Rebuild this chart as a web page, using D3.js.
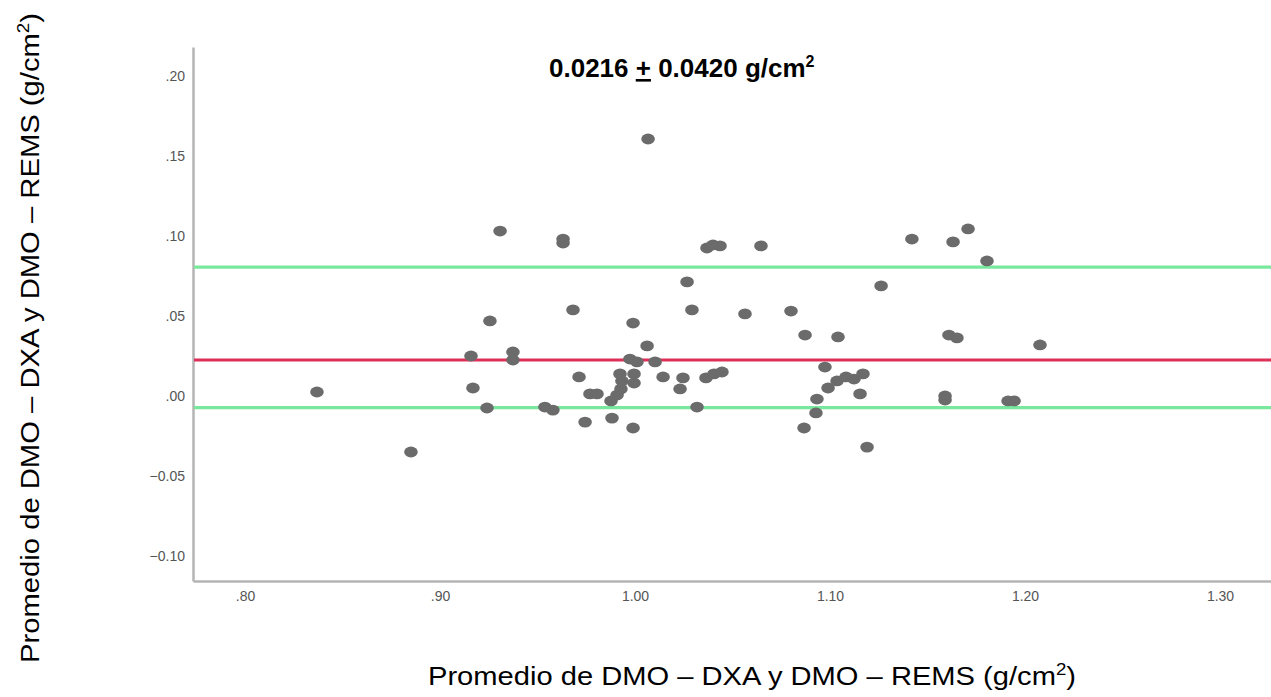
<!DOCTYPE html>
<html lang="es">
<head>
  <meta charset="UTF-8">
  <title>Bland-Altman DMO DXA vs REMS</title>
  <style>
    body { margin: 0; background: #fff; font-family: "Liberation Sans", Arial, sans-serif; }
    svg { display: block; }
    .tick text { fill: #555; font-size: 14px; font-family: "Liberation Sans", Arial, sans-serif; }
  </style>
</head>
<body>
  <div id="chart"></div>
  <script src="https://d3js.org/d3.v7.min.js"></script>
  <script>
    // mean of the two methods (g/cm2)
    const meanX = [
      0.8369, 0.8851, 0.9256, 0.9159, 0.9169, 0.9241, 0.9308, 0.9374, 0.9374, 0.9538,
      0.9579, 0.9631, 0.9631, 0.9682, 0.9713, 0.9744, 0.9769, 0.9805, 0.9882, 0.9877,
      0.9908, 0.9928, 0.9923, 0.9933, 0.9990, 0.9974, 1.0010, 0.9995, 0.9995, 0.9990,
      1.0062, 1.0067, 1.0103, 1.0144, 1.0246, 1.0231, 1.0267, 1.0292, 1.0318, 1.0369,
      1.0400, 1.0436, 1.0364, 1.0405, 1.0446, 1.0564, 1.0646, 1.0800, 1.0872, 1.0867,
      1.0928, 1.0933, 1.0974, 1.0990, 1.1036, 1.1082, 1.1123, 1.1169, 1.1041, 1.1154,
      1.1190, 1.1262, 1.1420, 1.1631, 1.1708, 1.1805, 1.1610, 1.1651, 1.1590, 1.1590,
      1.1913, 1.1944, 1.2077
    ];
    // difference DXA - REMS (g/cm2)
    const diffY = [
      0.0025, -0.0350, 0.0469, 0.0250, 0.0050, -0.0075, 0.1031, 0.0275, 0.0225, -0.0069,
      -0.0088, 0.0981, 0.0956, 0.0538, 0.0119, -0.0163, 0.0013, 0.0013, -0.0138, -0.0031,
      0.0006, 0.0044, 0.0138, 0.0094, 0.0456, 0.0231, 0.0213, 0.0138, 0.0081, -0.0200,
      0.0313, 0.1606, 0.0213, 0.0119, 0.0113, 0.0044, 0.0713, 0.0538, -0.0069, 0.0925,
      0.0944, 0.0938, 0.0113, 0.0138, 0.0150, 0.0513, 0.0938, 0.0531, 0.0381, -0.0200,
      -0.0106, -0.0019, 0.0181, 0.0050, 0.0094, 0.0119, 0.0106, 0.0138, 0.0369, 0.0013,
      -0.0319, 0.0688, 0.0981, 0.0963, 0.1044, 0.0844, 0.0381, 0.0363, 0.0000, -0.0025,
      -0.0031, -0.0031, 0.0319
    ];
    const xTicks = [0.8, 0.9, 1.0, 1.1, 1.2, 1.3];
    const yTicks = [0.20, 0.15, 0.10, 0.05, 0.00, -0.05, -0.10];
    const meanDiff = 0.0225;
    const upperLimit = 0.0806;
    const lowerLimit = -0.0073;
    const axisTitle = "Promedio de DMO – DXA y DMO – REMS (g/cm";

    const width = 1271, height = 697;
    const svg = d3.select("#chart").append("svg")
      .attr("width", width).attr("height", height);

    const x = d3.scaleLinear().domain([0.77333, 1.32615]).range([193, 1271]);
    const y = d3.scaleLinear().domain([-0.1156, 0.2181]).range([581, 47]);

    // SPSS style labels: no leading zero
    const fmt = d => {
      let s = d3.format(".2f")(d);
      return s.replace(/^0\./, ".").replace(/^-0\./, "-.");
    };

    // x axis
    const xAxis = svg.append("g")
      .attr("transform", `translate(0,${y.range()[0]})`)
      .call(d3.axisBottom(x).tickValues(xTicks).tickFormat(fmt).tickSize(0).tickPadding(10));
    xAxis.select(".domain").attr("stroke", "#b4b4b4").attr("stroke-width", 2.5);

    // y axis
    const yAxis = svg.append("g")
      .attr("transform", `translate(${x.range()[0]},0)`)
      .call(d3.axisLeft(y).tickValues(yTicks).tickFormat(fmt).tickSize(0).tickPadding(8));
    yAxis.select(".domain").attr("stroke", "#b4b4b4").attr("stroke-width", 2.5);

    // reference lines
    const refLines = [
      { v: upperLimit, c: "#79e89c" },
      { v: meanDiff, c: "#de2f58" },
      { v: lowerLimit, c: "#79e89c" }
    ];
    svg.selectAll(".ref").data(refLines).enter().append("line")
      .attr("class", "ref")
      .attr("x1", x.range()[0] + 1).attr("x2", width)
      .attr("y1", d => y(d.v)).attr("y2", d => y(d.v))
      .attr("stroke", d => d.c).attr("stroke-width", 3.2);

    // points
    const pts = meanX.map((m, i) => ({ m, d: diffY[i] }));
    svg.selectAll(".pt").data(pts).enter().append("ellipse")
      .attr("class", "pt")
      .attr("cx", d => x(d.m)).attr("cy", d => y(d.d))
      .attr("rx", 6.8).attr("ry", 5.4)
      .attr("fill", "#6b6b6b");

    // title text
    const title = svg.append("text")
      .attr("x", 549).attr("y", 77)
      .attr("font-size", 26).attr("font-weight", "bold").attr("fill", "#000");
    title.append("tspan").text("0.0216 ");
    title.append("tspan").attr("text-decoration", "underline").text("+");
    title.append("tspan").text(" 0.0420 g/cm");
    title.append("tspan").attr("font-size", 16).attr("dy", -10).text("2");

    // axis titles (stretched like in the source figure)
    function axisLabel(g) {
      g.append("tspan").text(axisTitle);
      g.append("tspan").attr("font-size", 16).attr("dy", -10).text("2");
      g.append("tspan").attr("dy", 10).text(")");
    }

    const xt = svg.append("text")
      .attr("x", 428).attr("y", 685)
      .attr("font-size", 25).attr("fill", "#000")
      .attr("textLength", 648).attr("lengthAdjust", "spacingAndGlyphs");
    axisLabel(xt);

    const yt = svg.append("text")
      .attr("transform", "translate(39,663) rotate(-90)")
      .attr("font-size", 25).attr("fill", "#000")
      .attr("textLength", 650).attr("lengthAdjust", "spacingAndGlyphs");
    axisLabel(yt);
  </script>
</body>
</html>
